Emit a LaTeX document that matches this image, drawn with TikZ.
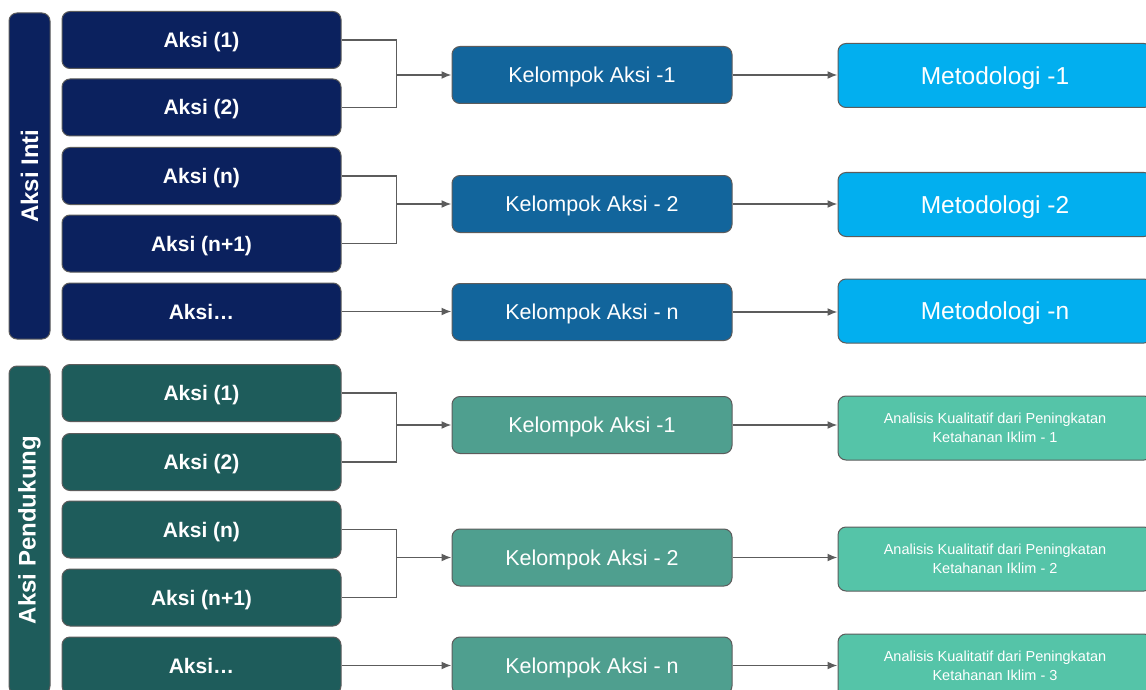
\documentclass[tikz,border=0pt]{standalone}
\usepackage{fontspec}
\setmainfont{Liberation Sans}
\usetikzlibrary{arrows.meta}
\definecolor{intitua}{HTML}{0B215E}
\definecolor{intisedang}{HTML}{12659C}
\definecolor{intimuda}{HTML}{02AFEF}
\definecolor{dukungtua}{HTML}{1E5C5B}
\definecolor{dukungsedang}{HTML}{4F9F8F}
\definecolor{dukungmuda}{HTML}{55C4A8}
\definecolor{garis}{HTML}{5C5C5C}
\begin{document}
\begin{tikzpicture}[x=1pt,y=-1pt,
	kotak/.style={draw=garis,line width=1pt,rounded corners=8pt,text=white,align=center,inner sep=0pt},
	aksi/.style={kotak,minimum width=279pt,minimum height=57pt,text height=15pt,text depth=0pt,font=\bfseries\fontsize{21}{24}\selectfont},
	kelompok/.style={kotak,minimum width=280pt,minimum height=57pt,text height=15.4pt,text depth=0pt,font=\fontsize{21.5}{24}\selectfont},
	metode/.style={kotak,minimum width=314pt,minimum height=64pt,text height=17.5pt,text depth=0pt,font=\fontsize{24.5}{26}\selectfont},
	analisis/.style={kotak,minimum width=314pt,minimum height=64pt,font=\fontsize{14.5}{19}\selectfont},
	judul/.style={kotak,minimum height=41pt,rotate=90,font=\bfseries\fontsize{24}{28}\selectfont},
	garisan/.style={draw=garis,line width=1.7pt},
	panah/.style={garisan,-{Latex[length=10pt,width=8pt]}}]
	
	\useasboundingbox (0,0) rectangle (1146,690);
	\fill[white] (0,0) rectangle (1146,690);
	\clip (0,0) rectangle (1146,690);
	
	% aksi inti
	\node[judul,fill=intitua,minimum width=326pt] (inti) at (29.5,176) {Aksi Inti};
	\node[aksi,fill=intitua] (a1) at (201.5,40) {Aksi (1)};
	\node[aksi,fill=intitua] (a2) at (201.5,107.5) {Aksi (2)};
	\node[aksi,fill=intitua] (a3) at (201.5,176) {Aksi (n)};
	\node[aksi,fill=intitua] (a4) at (201.5,243.5) {Aksi (n+1)};
	\node[aksi,fill=intitua] (a5) at (201.5,311.5) {Aksi…};
	
	\node[kelompok,fill=intisedang] (k1) at (592,75) {Kelompok Aksi -1};
	\node[kelompok,fill=intisedang] (k2) at (592,204) {Kelompok Aksi - 2};
	\node[kelompok,fill=intisedang] (k3) at (592,312) {Kelompok Aksi - n};
	
	\node[metode,fill=intimuda] (m1) at (995,75.5) {Metodologi -1};
	\node[metode,fill=intimuda] (m2) at (995,204.5) {Metodologi -2};
	\node[metode,fill=intimuda] (m3) at (995,311) {Metodologi -n};
	
	% aksi pendukung
	\node[judul,fill=dukungtua,minimum width=328pt] (dukung) at (29.5,530) {Aksi Pendukung};
	\node[aksi,fill=dukungtua] (b1) at (201.5,393) {Aksi (1)};
	\node[aksi,fill=dukungtua] (b2) at (201.5,462) {Aksi (2)};
	\node[aksi,fill=dukungtua] (b3) at (201.5,529.5) {Aksi (n)};
	\node[aksi,fill=dukungtua] (b4) at (201.5,597.5) {Aksi (n+1)};
	\node[aksi,fill=dukungtua] (b5) at (201.5,665.5) {Aksi…};
	
	\node[kelompok,fill=dukungsedang] (l1) at (592,425) {Kelompok Aksi -1};
	\node[kelompok,fill=dukungsedang] (l2) at (592,557.5) {Kelompok Aksi - 2};
	\node[kelompok,fill=dukungsedang] (l3) at (592,665.5) {Kelompok Aksi - n};
	
	\node[analisis,fill=dukungmuda] (n1) at (995,428) {Analisis Kualitatif dari Peningkatan\\Ketahanan Iklim - 1};
	\node[analisis,fill=dukungmuda] (n2) at (995,559) {Analisis Kualitatif dari Peningkatan\\Ketahanan Iklim - 2};
	\node[analisis,fill=dukungmuda] (n3) at (995,666) {Analisis Kualitatif dari Peningkatan\\Ketahanan Iklim - 3};
	
	% sambungan
	\coordinate (j1) at ([xshift=-55pt]k1.west);
	\coordinate (j2) at ([xshift=-55pt]k2.west);
	\coordinate (j3) at ([xshift=-55pt]l1.west);
	\coordinate (j4) at ([xshift=-55pt]l2.west);
	
	\draw[garisan] (a1.east) -| (j1) |- (a2.east);
	\draw[garisan] (a3.east) -| (j2) |- (a4.east);
	\draw[garisan] (b1.east) -| (j3) |- (b2.east);
	\draw[garisan] (b3.east) -| (j4) |- (b4.east);
	
	\draw[panah] (j1) -- (k1.west);
	\draw[panah] (j2) -- (k2.west);
	\draw[panah] (a5.east) -- (a5.east -| k3.west);
	\draw[panah] (j3) -- (l1.west);
	\draw[panah] (j4) -- (l2.west);
	\draw[panah] (b5.east) -- (b5.east -| l3.west);
	
	\draw[panah] (k1.east) -- (k1.east -| m1.west);
	\draw[panah] (k2.east) -- (k2.east -| m2.west);
	\draw[panah] (k3.east) -- (k3.east -| m3.west);
	\draw[panah] (l1.east) -- (l1.east -| n1.west);
	\draw[panah] (l2.east) -- (l2.east -| n2.west);
	\draw[panah] (l3.east) -- (l3.east -| n3.west);
	
\end{tikzpicture}
\end{document}
